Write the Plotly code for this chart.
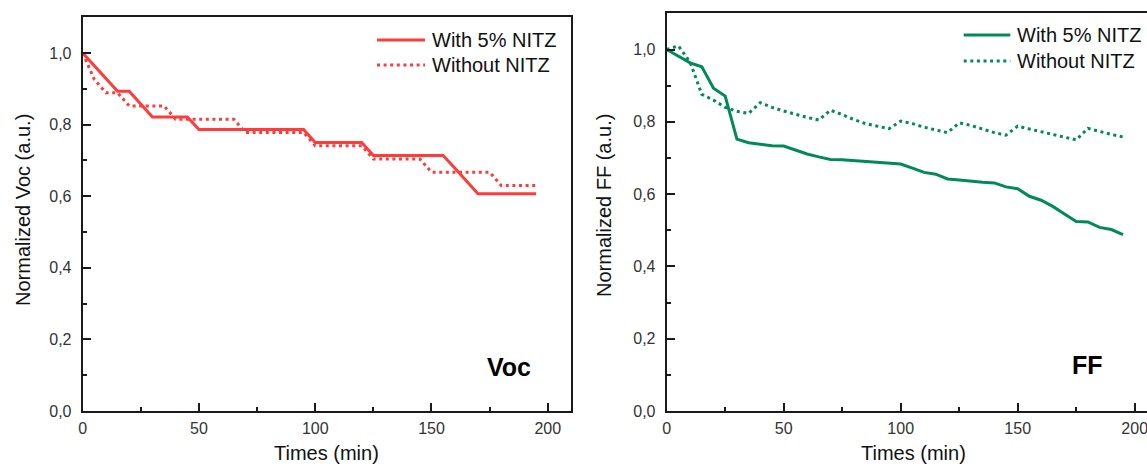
import plotly.graph_objects as go

# ---- data -----------------------------------------------------------------
time_min = [0, 5, 10, 15, 20, 25, 30, 35, 40, 45,
            50, 55, 60, 65, 70, 75, 80, 85, 90, 95,
            100, 105, 110, 115, 120, 125, 130, 135, 140, 145,
            150, 155, 160, 165, 170, 175, 180, 185, 190, 195]

voc_with_nitz = [1.000, 0.964, 0.929, 0.893, 0.893, 0.857, 0.821, 0.821, 0.821, 0.821,
                 0.786, 0.786, 0.786, 0.786, 0.786, 0.786, 0.786, 0.786, 0.786, 0.786,
                 0.750, 0.750, 0.750, 0.750, 0.750, 0.714, 0.714, 0.714, 0.714, 0.714,
                 0.714, 0.714, 0.679, 0.643, 0.607, 0.607, 0.607, 0.607, 0.607, 0.607]

voc_without_nitz = [1.000, 0.926, 0.889, 0.889, 0.852, 0.852, 0.852, 0.852, 0.815, 0.815,
                    0.815, 0.815, 0.815, 0.815, 0.778, 0.778, 0.778, 0.778, 0.778, 0.778,
                    0.741, 0.741, 0.741, 0.741, 0.741, 0.704, 0.704, 0.704, 0.704, 0.704,
                    0.667, 0.667, 0.667, 0.667, 0.667, 0.667, 0.630, 0.630, 0.630, 0.630]

ff_with_nitz = [1.000, 0.982, 0.963, 0.952, 0.893, 0.871, 0.752, 0.742, 0.738, 0.734,
                0.733, 0.721, 0.711, 0.703, 0.696, 0.695, 0.693, 0.690, 0.687, 0.685,
                0.683, 0.672, 0.660, 0.655, 0.642, 0.639, 0.635, 0.633, 0.631, 0.620,
                0.615, 0.594, 0.583, 0.566, 0.545, 0.524, 0.523, 0.508, 0.502, 0.488]

ff_without_nitz = [1.000, 1.010, 0.965, 0.876, 0.860, 0.840, 0.829, 0.823, 0.853, 0.840,
                   0.830, 0.820, 0.812, 0.805, 0.832, 0.820, 0.806, 0.795, 0.787, 0.781,
                   0.802, 0.795, 0.785, 0.778, 0.770, 0.797, 0.790, 0.780, 0.770, 0.763,
                   0.788, 0.780, 0.772, 0.764, 0.757, 0.750, 0.782, 0.773, 0.765, 0.758]

series_names = ["With 5% NITZ", "Without NITZ"]
panel_labels = ["Voc", "FF"]
y_titles = ["Normalized Voc (a.u.)", "Normalized FF (a.u.)"]
x_title = "Times (min)"

# ---- styling --------------------------------------------------------------
W, H = 1147, 466
RED = "#ff3c3c"
GREEN = "#008a5a"
AXIS = "#1a1a1a"
TEXT = "#111111"
TICKTXT = "#333333"
FONT = "Arial, Liberation Sans, sans-serif"
DOT = "3px,3.6px"


def fx(p):
    """pixel column -> paper x"""
    return p / W


def fy(p):
    """pixel row (from top) -> paper y"""
    return 1 - p / H


fig = go.Figure()

panels = [
    dict(xa="x", ya="y", color=RED, with_=voc_with_nitz, without=voc_without_nitz),
    dict(xa="x2", ya="y2", color=GREEN, with_=ff_with_nitz, without=ff_without_nitz),
]

for p in panels:
    fig.add_trace(go.Scatter(x=time_min, y=p["with_"], mode="lines", name=series_names[0],
                             xaxis=p["xa"], yaxis=p["ya"], showlegend=False,
                             line=dict(color=p["color"], width=3)))
    fig.add_trace(go.Scatter(x=time_min, y=p["without"], mode="lines", name=series_names[1],
                             xaxis=p["xa"], yaxis=p["ya"], showlegend=False,
                             line=dict(color=p["color"], width=3, dash=DOT)))

common_x = dict(showgrid=False, zeroline=False, showline=True, linecolor=AXIS, linewidth=2,
                ticks="inside", ticklen=8, tickwidth=2, tickcolor=AXIS, dtick=50, tick0=0,
                minor=dict(ticks="inside", ticklen=4, tickwidth=2, tickcolor=AXIS, dtick=25),
                tickfont=dict(family=FONT, size=16, color=TICKTXT), ticklabelstandoff=2,
                ticklabeloverflow="allow", automargin=False)
common_y = dict(showgrid=False, zeroline=False, showline=True, linecolor=AXIS, linewidth=2,
                ticks="inside", ticklen=8, tickwidth=2, tickcolor=AXIS, dtick=0.2, tick0=0,
                tickformat=".1f", range=[0, 1.1], automargin=False,
                minor=dict(ticks="inside", ticklen=4, tickwidth=2, tickcolor=AXIS, dtick=0.1),
                tickfont=dict(family=FONT, size=16, color=TICKTXT), ticklabelstandoff=6)

# left panel boxed; right panel runs off the right edge (no right spine)
fig.update_layout(
    xaxis=dict(common_x, domain=[fx(82.7), fx(571)], range=[0, 210], mirror=True, anchor="y"),
    yaxis=dict(common_y, domain=[fy(411), fy(411 - 1.1 * 358)], mirror=True, anchor="x"),
    xaxis2=dict(common_x, domain=[fx(666.7), 1.0], range=[0, (W - 666.7) / 2.34], mirror=True,
                anchor="y2"),
    yaxis2=dict(common_y, domain=[fy(411), fy(411 - 1.1 * 361.5)], mirror=False, anchor="x2"),
)

# legends: line samples + labels
legend_specs = [
    dict(x0=377, x1=425, y_rows=[40, 65], color=RED),
    dict(x0=963.7, x1=1010.3, y_rows=[35, 61], color=GREEN),
]
for spec in legend_specs:
    for i, (name, yrow) in enumerate(zip(series_names, spec["y_rows"])):
        fig.add_shape(type="line", xref="paper", yref="paper",
                      x0=fx(spec["x0"]), x1=fx(spec["x1"]), y0=fy(yrow), y1=fy(yrow),
                      line=dict(color=spec["color"], width=3, dash=None if i == 0 else DOT))
        fig.add_annotation(xref="paper", yref="paper", x=fx(spec["x1"] + 5), y=fy(yrow),
                           xanchor="left", yanchor="middle", showarrow=False, text=name,
                           font=dict(family=FONT, size=20, color=TEXT))

# axis titles
for cx, cy in [(326.5, 452.5), (913, 452.5)]:
    fig.add_annotation(xref="paper", yref="paper", x=fx(cx), y=fy(cy), xanchor="center",
                       yanchor="middle", showarrow=False, text=x_title,
                       font=dict(family=FONT, size=20, color=TEXT))
for title, cx, cy in [(y_titles[0], 23, 210), (y_titles[1], 604, 206)]:
    fig.add_annotation(xref="paper", yref="paper", x=fx(cx), y=fy(cy), xanchor="center",
                       yanchor="middle", showarrow=False, text=title, textangle=-90,
                       font=dict(family=FONT, size=20, color=TEXT))

# panel tags
for label, cx, cy in [(panel_labels[0], 508.5, 366.7), (panel_labels[1], 1087.5, 365)]:
    fig.add_annotation(xref="paper", yref="paper", x=fx(cx), y=fy(cy), xanchor="center",
                       yanchor="middle", showarrow=False, text="<b>" + label + "</b>",
                       font=dict(family=FONT, size=25, color="#000000"))

fig.update_layout(width=W, height=H, margin=dict(l=0, r=0, t=0, b=0),
                  paper_bgcolor="white", plot_bgcolor="white", separators=",.",
                  showlegend=False)

fig.write_html("out.html", config=dict(displayModeBar=False))
